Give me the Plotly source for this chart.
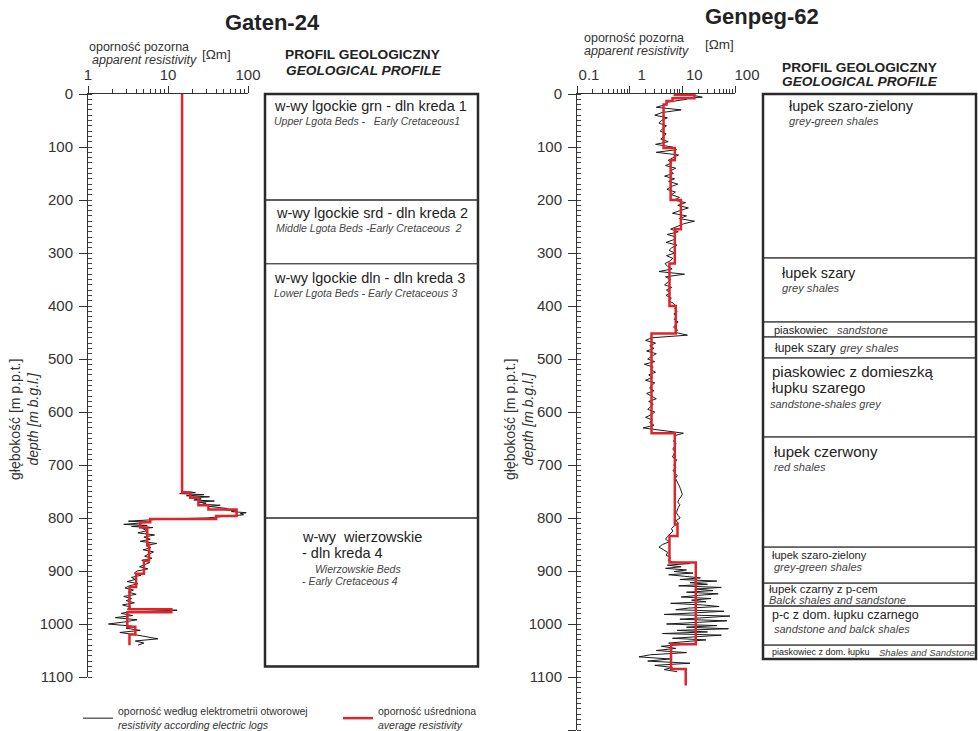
import plotly.graph_objects as go

# ---------------- DATA ----------------
# Gaten-24 : resistivity log (electric log) [depth m, ohm m]
gat_log_depth = [750, 752, 754, 756, 758, 760, 762, 764, 766, 768, 770, 772, 774, 776, 778, 780, 782, 784,
                 786, 788, 790, 792, 794, 796, 798, 800, 802, 804, 806, 808, 810, 812, 814, 816, 818, 820,
                 824, 828, 832, 836, 840, 844, 848, 852, 856, 860, 864, 868, 872, 876, 880, 884, 888, 892,
                 896, 900, 904, 908, 912, 916, 920, 924, 928, 932, 936, 940, 944, 948, 952, 956, 960, 964,
                 968, 972, 974, 976, 978, 980, 984, 988, 992, 996, 1000, 1004, 1008, 1012, 1016, 1020,
                 1024, 1028, 1032, 1036, 1040]
gat_log_value = [15, 22, 14, 28, 17, 33, 19, 26, 21, 38, 24, 30, 27, 45, 32, 40, 55, 48,
                 70, 62, 95, 80, 88, 60, 45, 30, 9, 5, 3.2, 6, 4, 2.8, 5.5, 3.5, 6.5, 4.8,
                 5.5, 4.2, 6.8, 5, 6, 4.5, 7.2, 5.3, 6.1, 4.9, 6.6, 5.8, 5.1, 6.3, 4.7, 5.9, 5.2, 4.4,
                 5.6, 4.1, 3.8, 4.6, 3.5, 3.9, 3.1, 4.2, 3.3, 2.9, 3.7, 3.2, 4.0, 2.8, 3.5, 3.0, 3.8, 2.7,
                 3.4, 3.1, 13, 7, 3.0, 2.6, 3.6, 2.2, 4.1, 2.9, 1.8, 3.5, 3.0, 4.5, 2.5, 3.8,
                 5.5, 7.5, 3.9, 5.0, 4.2]
# Gaten-24 : average resistivity (step profile: value from this depth downwards)
gat_avg_depth = [0, 752, 762, 776, 784, 796, 802, 808, 818, 850, 880, 905, 930, 972, 978, 1005, 1020, 1040]
gat_avg_value = [15, 19, 24, 32, 72, 40, 6.0, 4.5, 5.5, 5.8, 5.0, 4.0, 3.3, 11, 3.1, 3.9, 3.3, 3.3]

# Gaten-24 : geological profile
gat_layer_top = [0, 200, 320, 800]
gat_layer_bottom = 1080
gat_layer_pl = [["w-wy lgockie grn - dln kreda 1"],
                ["w-wy lgockie srd - dln kreda 2"],
                ["w-wy lgockie dln - dln kreda 3"],
                ["w-wy  wierzowskie", "- dln kreda 4"]]
gat_layer_en = [["Upper Lgota Beds -   Early Cretaceous1"],
                ["Middle Lgota Beds -Early Cretaceous  2"],
                ["Lower Lgota Beds - Early Cretaceous 3"],
                ["Wierzowskie Beds", "- Early Cretaceous 4"]]

# Genpeg-62 : resistivity log
gen_log_depth = [3, 6, 8, 10, 15, 20, 25, 30, 35, 40, 45, 50, 55, 60, 65, 70, 75, 80, 85, 90, 95,
                 100, 105, 110, 115, 120, 125, 130, 135, 140, 145, 150, 155, 160, 165, 170, 175, 180, 185, 190, 195,
                 200, 205, 210, 215, 220, 225, 230, 235, 240, 245, 250,
                 255, 260, 265, 270, 275, 280, 285, 290, 295, 300, 305, 310, 315, 320,
                 325, 330, 335, 340, 345, 350, 355, 360, 365, 370, 375, 380, 385, 390, 395, 400,
                 405, 410, 415, 420, 425, 430, 435, 440, 445, 450, 455,
                 460, 465, 470, 475, 480, 485, 490, 495, 500, 505, 510, 515, 520, 525, 530, 535, 540, 545,
                 550, 555, 560, 565, 570, 575, 580, 585, 590, 595, 600, 605, 610, 615, 620, 625, 630, 635, 640,
                 645, 650, 655, 660, 665, 670, 675, 680, 685, 690, 695, 700,
                 705, 710, 715, 720, 725, 730, 735, 740, 745, 750, 755, 760,
                 765, 770, 775, 780, 785, 790, 795, 800, 805, 810, 815, 820,
                 825, 830, 835, 840, 845, 850, 855, 860, 865, 870, 875, 880,
                 883, 886, 889, 892, 895, 898, 901, 904, 907, 910,
                 913, 916, 919, 922, 925, 928, 931, 934, 937, 940,
                 943, 946, 949, 952, 955, 958, 961, 964, 967, 970,
                 973, 976, 979, 982, 985, 988, 991, 994, 997, 1000,
                 1003, 1006, 1009, 1012, 1015, 1018, 1021, 1024, 1027, 1030,
                 1033, 1036, 1039,
                 1042, 1046, 1050, 1054, 1058, 1062, 1066, 1070, 1074, 1078, 1082, 1086, 1090]
gen_log_value = [17, 24, 9, 12, 5.5, 4.8, 3.2, 9.5, 4.1, 3.0, 5.2, 4.0, 3.6, 5.0, 4.3, 3.8, 4.9, 4.5, 3.9, 5.4, 3.1,
                 6.5, 7.8, 3.2, 8.5, 6.9, 5.4, 6.3, 4.8, 7.5, 5.9, 6.8, 4.6, 7.1, 5.5, 8.2, 6.0, 5.1, 7.4, 6.2, 8.8,
                 7.0, 11.5, 8.2, 13.0, 9.0, 6.5, 12.0, 8.8, 17.0, 10.5, 8.0,
                 6.0, 8.4, 5.2, 7.6, 6.8, 4.9, 7.9, 6.3, 5.6, 7.2, 5.0, 6.6, 5.8, 4.7,
                 5.2, 6.4, 3.6, 11.0, 4.8, 6.0, 5.4, 4.6, 6.3, 5.0, 5.9, 4.9, 6.2, 5.5, 6.8, 7.6,
                 7.2, 8.0, 6.9, 7.8, 7.0, 8.3, 7.4, 6.8, 8.1, 7.5, 12.5,
                 2.6, 2.0, 3.1, 2.4, 2.9, 2.1, 3.2, 2.6, 2.2, 3.0, 1.9, 2.8, 2.5, 3.1, 2.3, 2.7, 2.0, 3.0,
                 2.6, 2.4, 2.9, 2.1, 2.6, 3.2, 2.3, 2.8, 2.5, 2.2, 3.0, 2.6, 2.0, 2.7, 2.4, 2.9, 1.8, 4.0, 10.5,
                 7.0, 7.4, 6.8, 7.6, 7.1, 6.6, 7.3, 7.0, 6.5, 7.8, 7.2, 6.9,
                 7.5, 6.7, 7.2, 8.0, 7.4, 7.9, 8.3, 8.8, 9.2, 9.6, 10.0, 9.4,
                 8.6, 8.2, 9.0, 8.4, 8.0, 7.7, 8.3, 9.1, 7.6, 8.4, 7.0, 6.2,
                 6.6, 5.8, 5.2, 4.8, 5.6, 4.2, 3.6, 4.4, 5.3, 4.9, 6.0, 5.4,
                 6.5, 14, 5.2, 9.5, 4.8, 12, 7.0, 16, 5.5, 11,
                 22, 9, 45, 14, 30, 8.5, 55, 18, 38, 12,
                 48, 20, 9.5, 35, 15, 28, 6.0, 24, 50, 13,
                 7.5, 62, 20, 4.5, 80, 25, 9, 70, 15, 5.0,
                 45, 12, 75, 8, 30, 4.2, 55, 18, 6.5, 28,
                 10, 5.5, 9,
                 4.0, 7.5, 3.2, 12, 2.5, 1.5, 5.8, 2.2, 14, 3.0, 6.5, 4.5, 8.0]
# Genpeg-62 : average resistivity (step profile)
gen_avg_depth = [0, 2, 8, 13, 20, 102, 125, 200, 255, 320, 400, 452, 640, 812, 834, 884, 1038, 1085, 1116]
gen_avg_value = [7.2, 17, 6.5, 5.0, 4.4, 7.2, 6.0, 9.4, 7.2, 5.7, 7.5, 2.6, 7.2, 8.1, 5.7, 18, 6.1, 11.6, 11.6]

# Genpeg-62 : geological profile
gen_layer_top = [0, 309, 430, 458, 498, 647, 855, 923, 966, 1040]
gen_layer_bottom = 1066
gen_layer_pl = [["łupek szaro-zielony"], ["łupek szary"], ["piaskowiec"], ["łupek szary"],
                ["piaskowiec z domieszką", "łupku szarego"], ["łupek czerwony"], ["łupek szaro-zielony"],
                ["łupek czarny z p-cem"], ["p-c z dom. łupku czarnego"], ["piaskowiec z dom. łupku"]]
gen_layer_en = [["grey-green shales"], ["grey shales"], ["sandstone"], ["grey shales"],
                ["sandstone-shales grey"], ["red shales"], ["grey-green shales"],
                ["Balck shales and sandstone"], ["sandstone and balck shales"], ["Shales and Sandstone"]]

gat_x_ticks = [1, 10, 100]
gen_x_ticks = [0.1, 1, 10, 100]

# ---------------- FIGURE ----------------
W, H = 978, 731
FONT = "Liberation Sans, Arial, sans-serif"
TXT = "#222222"
SUB = "#444444"
RED = "#e0252a"
AX = "#333333"


def fx(p):
    return p / W


def fy(p):
    return 1 - p / H


def log_minor(lo, hi):
    return [m * 10 ** e for e in range(lo, hi) for m in range(2, 10)]


fig = go.Figure()

leg_black = "oporność według elektrometrii otworowej<br><i>resistivity according electric logs</i>"
leg_red = "oporność uśredniona<br><i>average resistivity</i>"

fig.add_trace(go.Scatter(x=gat_log_value, y=gat_log_depth, xaxis="x", yaxis="y", mode="lines",
                         line=dict(color="#1a1a1a", width=1), name=leg_black, showlegend=True))
fig.add_trace(go.Scatter(x=gat_avg_value, y=gat_avg_depth, xaxis="x", yaxis="y", mode="lines",
                         line=dict(color=RED, width=2.5, shape="vh"), name=leg_red, showlegend=True))
fig.add_trace(go.Scatter(x=gen_log_value, y=gen_log_depth, xaxis="x3", yaxis="y2", mode="lines",
                         line=dict(color="#1a1a1a", width=1), showlegend=False))
fig.add_trace(go.Scatter(x=gen_avg_value, y=gen_avg_depth, xaxis="x3", yaxis="y2", mode="lines",
                         line=dict(color=RED, width=2.5, shape="vh"), showlegend=False))


def depth_axis(bottom_px, rng, anchor):
    return dict(domain=[fy(bottom_px), fy(94)], range=rng, anchor=anchor, showline=True,
                linecolor=AX, linewidth=1, ticks="outside", ticklen=8, tickwidth=1, tickcolor=AX,
                tick0=0, dtick=100, tickfont=dict(size=15, color=AX, family=FONT),
                ticklabelstandoff=3, showgrid=False, zeroline=False, automargin=False,
                minor=dict(dtick=10, ticks="inside", ticklen=4, tickcolor="#444", tickwidth=1, showgrid=False))


def res_axis(x0, x1, rng, ticks, anchor, minor, shift):
    return dict(domain=[fx(x0), fx(x1)], type="log", range=rng, side="top", anchor=anchor,
                showline=True, linecolor=AX, linewidth=1, ticks="outside", ticklen=7, tickcolor=AX,
                tickvals=ticks, ticktext=[str(t) for t in ticks],
                tickfont=dict(size=15, color=AX, family=FONT), ticklabelshift=shift,
                showgrid=False, zeroline=False, automargin=False,
                minor=dict(tickvals=minor, ticks="outside", ticklen=4, tickcolor=AX, showgrid=False))


# geological profile axes: 0..1 across the box, same depth scale (0.53 px per metre)
def geo_x(left_px, right_px, dom_right_px):
    unit = right_px - left_px
    dom_left = left_px - 10
    return dict(domain=[fx(dom_left), fx(dom_right_px)],
                range=[(dom_left - left_px) / unit, (dom_right_px - left_px) / unit],
                visible=False, automargin=False)


geo_y_range = [1120, -20]
geo_y_dom = [fy(94 + 0.53 * 1120), fy(94 - 0.53 * 20)]

fig.update_layout(
    width=W, height=H, autosize=False,
    margin=dict(l=0, r=0, t=0, b=0, pad=0, autoexpand=False),
    paper_bgcolor="white", plot_bgcolor="white",
    font=dict(family=FONT, color=TXT),
    hovermode=False,
    xaxis=res_axis(88, 248, [0, 2], gat_x_ticks, "y", log_minor(0, 2), 0),
    yaxis=depth_axis(677, [1100, 0], "x"),
    xaxis3=res_axis(577, 735, [-1, 2], gen_x_ticks, "y2", log_minor(-1, 2), 12),
    yaxis2=depth_axis(730, [1200, 0], "x3"),
    xaxis2=dict(geo_x(265, 478, 488), anchor="y3"),
    yaxis3=dict(domain=geo_y_dom, range=geo_y_range, visible=False, anchor="x2", automargin=False),
    xaxis4=dict(geo_x(763, 976, 978), anchor="y4"),
    yaxis4=dict(domain=geo_y_dom, range=geo_y_range, visible=False, anchor="x4", automargin=False),
    legend=dict(orientation="h", x=fx(78), y=fy(698), xanchor="left", yanchor="top",
                font=dict(size=10.5, color="#333", family=FONT), bgcolor="rgba(0,0,0,0)",
                tracegroupgap=0, valign="middle", entrywidth=215, entrywidthmode="pixels"),
)

shapes = []
annotations = []


def profile(xref, yref, tops, bottom, pl, en, layout):
    bounds = tops + [bottom]
    for i in range(len(tops)):
        shapes.append(dict(type="rect", xref=xref, yref=yref, x0=0, x1=1, y0=bounds[i], y1=bounds[i + 1],
                           line=dict(color="#555", width=1.3), layer="above"))
        spec = layout[i]
        lines = [(t, False) for t in pl[i]] + [(t, True) for t in en[i]]
        for (text, italic), (dx, dy, size) in zip(lines, spec):
            annotations.append(dict(
                xref=xref, yref=yref, x=0, y=tops[i], xanchor="left", yanchor="middle",
                xshift=dx, yshift=-dy, showarrow=False,
                text=f"<i>{text}</i>" if italic else text,
                font=dict(size=size, color=SUB if italic else TXT, family=FONT)))
    shapes.append(dict(type="rect", xref=xref, yref=yref, x0=0, x1=1, y0=0, y1=bottom,
                       line=dict(color="#2a2a2a", width=2.5), layer="above"))


# label placement: (x offset px, y offset px below layer top, font size) for each line
gat_label_layout = [
    [(7, 12, 14.5), (7, 27, 10.5)],
    [(9, 13, 14.5), (9, 28, 10.5)],
    [(7, 14, 14.5), (7, 29, 10.5)],
    [(35, 19, 14.5), (35, 35, 14.5), (48, 51, 10.5), (35, 63, 10.5)],
]
gen_label_layout = [
    [(24, 12, 14.5), (24, 27, 11.2)],
    [(17, 15, 14.5), (17, 30, 11.2)],
    [(9, 8, 11), (72, 8, 11)],
    [(10, 11, 12), (75, 11, 11.5)],
    [(7, 14, 15), (7, 30, 15), (5, 46, 11)],
    [(9, 15, 15), (9, 30, 11.2)],
    [(7, 8, 11), (9, 20, 11)],
    [(4, 6, 11.5), (4, 17, 11)],
    [(7, 9, 12.5), (9, 23, 11)],
    [(7, 7, 9), (114, 7, 9.5)],
]

profile("x2", "y3", gat_layer_top, gat_layer_bottom, gat_layer_pl, gat_layer_en, gat_label_layout)
profile("x4", "y4", gen_layer_top, gen_layer_bottom, gen_layer_pl, gen_layer_en, gen_label_layout)


def paper_text(text, x, y, size, anchor="left", bold=False, italic=False, color=TXT, angle=0):
    t = text
    if bold:
        t = f"<b>{t}</b>"
    if italic:
        t = f"<i>{t}</i>"
    annotations.append(dict(xref="paper", yref="paper", x=fx(x), y=fy(y), xanchor=anchor, yanchor="middle",
                            text=t, showarrow=False, textangle=angle,
                            font=dict(size=size, color=color, family=FONT)))


paper_text("Gaten-24", 272, 23, 22, anchor="center", bold=True)
paper_text("Genpeg-62", 762, 16, 22, anchor="center", bold=True)

paper_text("oporność pozorna", 87, 47, 12.5, color="#333")
paper_text("apparent resistivity", 90, 60, 12.5, italic=True, color="#333")
paper_text("[Ωm]", 200, 54, 13.5, color="#333")
paper_text("oporność pozorna", 582, 38, 12.5, color="#333")
paper_text("apparent resistivity", 582, 51, 12.5, italic=True, color="#333")
paper_text("[Ωm]", 703, 44, 13.5, color="#333")

paper_text("PROFIL GEOLOGICZNY", 283, 55, 13.7, bold=True)
paper_text("GEOLOGICAL PROFILE", 284, 70, 13.7, bold=True, italic=True)
paper_text("PROFIL GEOLOGICZNY", 780, 67, 13.7, bold=True)
paper_text("GEOLOGICAL PROFILE", 780, 82, 13.7, bold=True, italic=True)

ytitle = "głębokość [m p.p.t.]<br><i>depth [m b.g.l.]</i>"
paper_text(ytitle, 24, 420, 14, anchor="center", color="#333", angle=-90)
paper_text(ytitle, 519, 420, 14, anchor="center", color="#333", angle=-90)

fig.update_layout(shapes=shapes, annotations=annotations)

fig.write_html("out.html", config={"displayModeBar": False},
               post_script="document.body.style.margin='0';document.body.style.overflow='hidden';")
